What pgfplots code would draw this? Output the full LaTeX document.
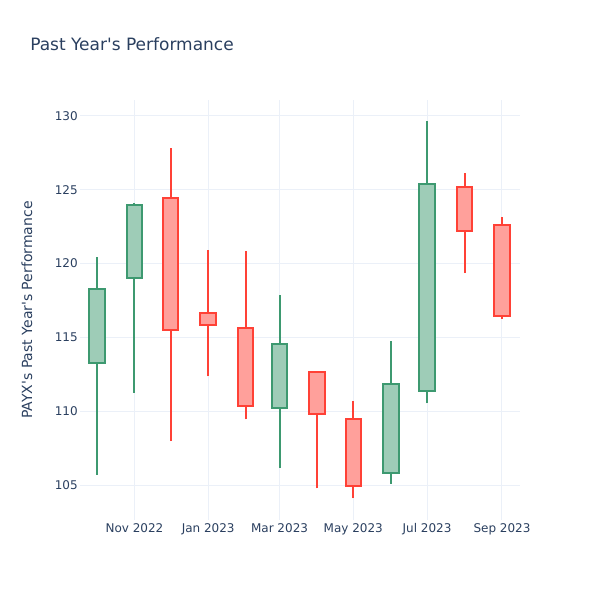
\documentclass[border=0pt]{standalone}
\usepackage{pgfplots}
\pgfplotsset{compat=1.18}
\usepackage{fontspec}
\setmainfont{DejaVu Sans}
\definecolor{txt}{HTML}{2A3F5F}
\definecolor{gridc}{HTML}{EBF0F8}
\definecolor{incl}{HTML}{3D9970}
\definecolor{incf}{HTML}{9ECCB7}
\definecolor{decl}{HTML}{FF4136}
\definecolor{decf}{HTML}{FFA09B}
\tikzset{
  incw/.style={draw=incl, line width=1.5pt, mark=none},
  decw/.style={draw=decl, line width=1.5pt, mark=none},
  incb/.style={draw=incl, fill=incf, line width=1.5pt, mark=none, line join=miter},
  decb/.style={draw=decl, fill=decf, line width=1.5pt, mark=none, line join=miter},
}
\begin{document}
\begin{tikzpicture}
\path[use as bounding box] (0,0) rectangle (450pt,450pt);
\begin{axis}[
  at={(60pt,60pt)}, anchor=south west,
  scale only axis, width=330pt, height=315pt,
  xmin=-14.06, xmax=349.9, ymin=102.63, ymax=131.08,
  axis line style={draw=none},
  major tick length=0pt,
  grid=major, grid style={gridc, line width=0.75pt},
  xtick={31,92,151,212,273,335},
  xticklabels={Nov 2022, Jan 2023, Mar 2023, May 2023, Jul 2023, Sep 2023},
  ytick={105,110,115,120,125,130},
  /pgf/number format/assume math mode=true,
  tick label style={font=\fontsize{9pt}{10pt}\selectfont, text=txt},
  yticklabel style={inner sep=0pt, xshift=-1.5pt},
  xticklabel style={inner sep=0pt, yshift=-2.5pt},
]
% x = days since 1 Oct 2022; whiskers low--high, then body open/close
% Oct 2022: O 113.25 H 120.45 L 105.68 C 118.26
\addplot[incw] coordinates {(0,105.68) (0,120.45)};
\addplot[incb] coordinates {(-6.4,113.25) (6.4,113.25) (6.4,118.26) (-6.4,118.26)} -- cycle;
% Nov 2022: O 119.02 H 124.13 L 111.25 C 123.99
\addplot[incw] coordinates {(31,111.25) (31,124.13)};
\addplot[incb] coordinates {(24.6,119.02) (37.4,119.02) (37.4,123.99) (24.6,123.99)} -- cycle;
% Dec 2022: O 124.44 H 127.85 L 107.98 C 115.52
\addplot[decw] coordinates {(61,107.98) (61,127.85)};
\addplot[decb] coordinates {(54.6,115.52) (67.4,115.52) (67.4,124.44) (54.6,124.44)} -- cycle;
% Jan 2023: O 116.63 H 120.90 L 112.36 C 115.84
\addplot[decw] coordinates {(92,112.36) (92,120.90)};
\addplot[decb] coordinates {(85.6,115.84) (98.4,115.84) (98.4,116.63) (85.6,116.63)} -- cycle;
% Feb 2023: O 115.62 H 120.87 L 109.45 C 110.35
\addplot[decw] coordinates {(123,109.45) (123,120.87)};
\addplot[decb] coordinates {(116.6,110.35) (129.4,110.35) (129.4,115.62) (116.6,115.62)} -- cycle;
% Mar 2023: O 110.24 H 117.90 L 106.17 C 114.55
\addplot[incw] coordinates {(151,106.17) (151,117.90)};
\addplot[incb] coordinates {(144.6,110.24) (157.4,110.24) (157.4,114.55) (144.6,114.55)} -- cycle;
% Apr 2023: O 112.65 H 112.68 L 104.78 C 109.83
\addplot[decw] coordinates {(182,104.78) (182,112.68)};
\addplot[decb] coordinates {(175.6,109.83) (188.4,109.83) (188.4,112.65) (175.6,112.65)} -- cycle;
% May 2023: O 109.50 H 110.67 L 104.10 C 104.93
\addplot[decw] coordinates {(212,104.10) (212,110.67)};
\addplot[decb] coordinates {(205.6,104.93) (218.4,104.93) (218.4,109.50) (205.6,109.50)} -- cycle;
% Jun 2023: O 105.83 H 114.73 L 105.07 C 111.84
\addplot[incw] coordinates {(243,105.07) (243,114.73)};
\addplot[incb] coordinates {(236.6,105.83) (249.4,105.83) (249.4,111.84) (236.6,111.84)} -- cycle;
% Jul 2023: O 111.39 H 129.64 L 110.53 C 125.37
\addplot[incw] coordinates {(273,110.53) (273,129.64)};
\addplot[incb] coordinates {(266.6,111.39) (279.4,111.39) (279.4,125.37) (266.6,125.37)} -- cycle;
% Aug 2023: O 125.19 H 126.14 L 119.36 C 122.21
\addplot[decw] coordinates {(304,119.36) (304,126.14)};
\addplot[decb] coordinates {(297.6,122.21) (310.4,122.21) (310.4,125.19) (297.6,125.19)} -- cycle;
% Sep 2023: O 122.64 H 123.16 L 116.25 C 116.45
\addplot[decw] coordinates {(335,116.25) (335,123.16)};
\addplot[decb] coordinates {(328.6,116.45) (341.4,116.45) (341.4,122.64) (328.6,122.64)} -- cycle;
\end{axis}
\node[anchor=west, inner sep=0pt, text=txt, font=\fontsize{12.75pt}{14pt}\selectfont] at (22.5pt,417pt) {Past Year\textquotesingle s Performance};
\node[rotate=90, text=txt, font=\fontsize{10.5pt}{12pt}\selectfont] at (20.25pt,217.5pt) {PAYX\textquotesingle s Past Year\textquotesingle s Performance};
\end{tikzpicture}
\end{document}
